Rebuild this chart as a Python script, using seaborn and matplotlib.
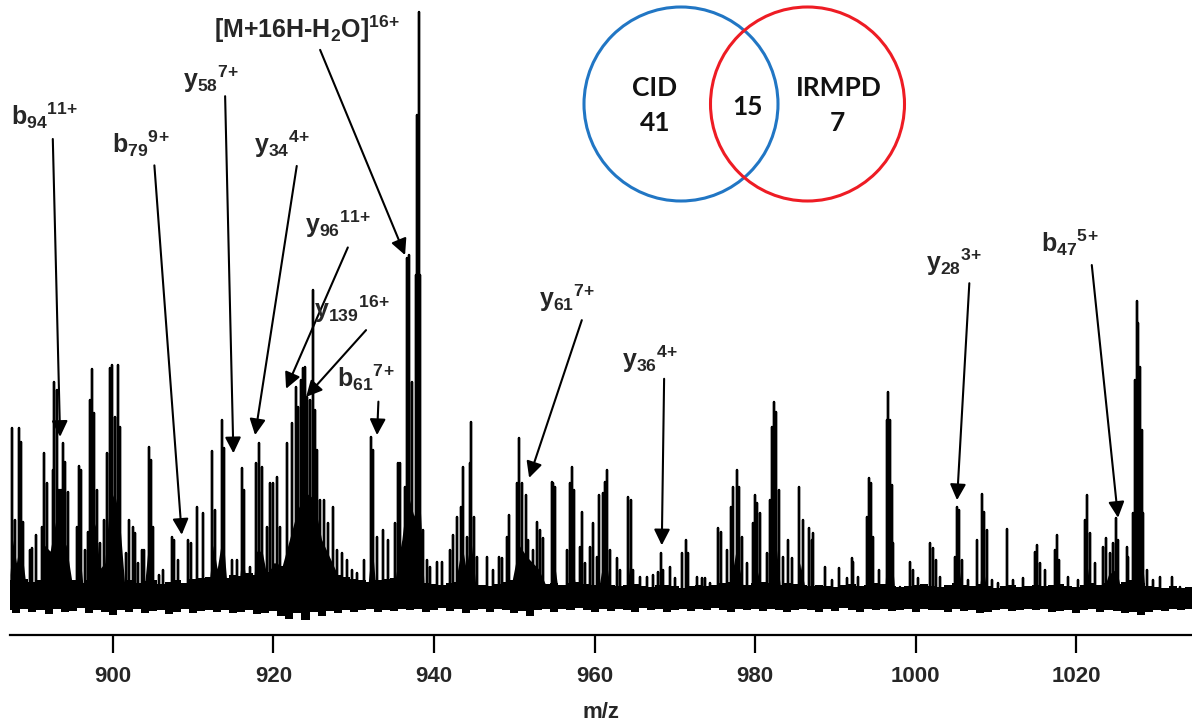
import numpy as np
import pandas as pd
import seaborn as sns
import matplotlib
matplotlib.use("Agg")
import matplotlib.pyplot as plt
from matplotlib.patches import Circle

# ---------------- data ----------------
peak_mz = [
    887.50, 887.83, 888.33, 888.58, 888.87, 889.70, 889.95, 890.45, 891.23, 891.48,
    891.78, 892.53, 892.73, 893.03, 893.28, 893.56, 893.85, 894.10, 894.47, 895.52,
    895.77, 896.01, 896.55, 896.96, 897.17, 897.46, 897.71, 898.01, 898.42, 898.92,
    899.33, 899.66, 899.95, 900.29, 900.62, 900.91, 901.66, 902.07, 902.49, 902.78,
    903.19, 903.61, 903.94, 904.48, 904.73, 904.98, 905.80, 906.30, 907.35, 907.63,
    908.17, 909.34, 909.71, 910.46, 911.21, 912.40, 912.74, 913.57, 913.86, 914.82,
    915.44, 916.06, 916.35, 917.10, 917.85, 918.22, 918.56, 919.18, 919.59, 920.00,
    920.50, 920.83, 921.74, 922.29, 922.83, 923.11, 923.45, 923.66, 923.95, 924.23,
    924.57, 924.91, 925.19, 925.48, 925.82, 926.31, 926.85, 927.40, 927.90, 928.52,
    929.14, 929.76, 930.39, 931.33, 932.17, 932.45, 932.88, 933.70, 934.32, 935.16,
    935.57, 935.78, 936.40, 936.65, 936.90, 937.21, 937.77, 937.93, 938.08, 938.18,
    938.31, 938.60, 939.10, 939.51, 940.35, 940.97, 942.00, 942.42, 942.91, 943.34,
    943.59, 944.08, 944.50, 944.62, 944.99, 945.41, 946.58, 947.40, 948.14, 948.44,
    949.07, 949.39, 950.31, 950.60, 950.93, 951.47, 951.76, 952.30, 952.80, 953.21,
    953.62, 954.67, 954.87, 955.08, 956.54, 956.95, 957.16, 957.45, 958.19, 958.41,
    958.82, 959.44, 959.85, 960.27, 960.60, 961.10, 961.31, 961.59, 961.93, 962.76,
    963.18, 964.21, 964.51, 964.83, 965.67, 966.50, 967.32, 967.95, 968.24, 968.57,
    969.40, 970.02, 970.86, 971.39, 971.68, 972.73, 973.35, 973.76, 974.38, 975.42,
    975.72, 976.46, 977.00, 977.28, 977.71, 978.03, 978.33, 978.95, 979.78, 979.99,
    980.27, 980.61, 981.44, 981.86, 982.07, 982.35, 982.60, 983.01, 983.51, 984.13,
    984.56, 985.45, 985.93, 986.75, 987.05, 987.25, 988.70, 989.54, 990.45, 991.41,
    992.03, 992.23, 992.85, 993.90, 994.18, 994.40, 994.72, 995.47, 996.39, 996.59,
    996.80, 997.01, 997.21, 998.05, 999.29, 999.70, 1000.32, 1001.78, 1002.12, 1002.53,
    1003.03, 1004.89, 1005.18, 1005.43, 1005.73, 1006.55, 1007.67, 1008.22, 1008.54, 1008.84,
    1009.46, 1010.29, 1011.33, 1012.15, 1013.40, 1014.86, 1015.14, 1015.48, 1016.10, 1017.35,
    1017.56, 1017.88, 1019.00, 1020.25, 1021.08, 1021.37, 1021.71, 1022.33, 1023.36, 1023.70,
    1024.20, 1024.61, 1024.95, 1025.23, 1026.28, 1026.48, 1027.10, 1027.31, 1027.52, 1027.72,
    1027.93, 1028.14, 1028.34, 1028.77, 1029.59, 1030.42, 1031.88, 1032.91,
]
peak_int = [
    29.0, 13.3, 29.0, 26.6, 13.0, 8.2, 8.5, 10.8, 12.1, 24.8,
    19.6, 21.8, 36.9, 35.5, 18.4, 18.4, 26.5, 23.2, 18.1, 12.1,
    22.5, 21.8, 8.2, 11.3, 33.8, 39.1, 31.6, 18.4, 9.4, 13.3,
    24.7, 39.2, 39.8, 30.9, 39.8, 29.2, 7.7, 13.3, 12.1, 11.1,
    6.0, 8.2, 8.2, 25.8, 23.5, 12.1, 3.9, 4.8, 10.4, 9.9,
    6.5, 9.9, 9.4, 15.5, 14.5, 25.0, 15.0, 30.4, 25.6, 6.5,
    6.5, 22.2, 18.4, 5.3, 23.0, 26.5, 22.4, 12.1, 19.6, 19.6,
    20.6, 12.1, 26.5, 29.9, 36.0, 32.6, 37.2, 39.2, 39.4, 34.3,
    33.8, 52.6, 32.1, 25.3, 16.7, 16.7, 12.8, 15.5, 8.2, 7.7,
    6.5, 4.8, 4.3, 6.5, 27.5, 25.3, 10.4, 11.6, 9.9, 12.8,
    23.0, 23.0, 18.9, 58.0, 58.5, 36.9, 55.1, 82.4, 82.4, 100.0,
    55.1, 11.6, 6.5, 5.3, 6.1, 6.1, 8.2, 10.8, 13.8, 15.5,
    22.4, 10.4, 23.0, 30.1, 13.8, 7.0, 7.0, 4.8, 7.0, 6.8,
    10.4, 14.2, 19.6, 27.3, 19.6, 17.6, 9.9, 8.2, 13.0, 11.6,
    10.2, 19.8, 19.6, 18.9, 8.2, 19.6, 22.4, 18.4, 8.7, 14.7,
    6.0, 8.7, 12.8, 7.0, 17.6, 17.9, 19.8, 21.8, 8.2, 6.8,
    4.8, 17.2, 16.7, 4.8, 3.6, 3.6, 3.9, 4.4, 7.7, 4.8,
    5.3, 3.4, 7.7, 9.9, 7.7, 3.6, 3.4, 3.4, 2.6, 11.9,
    11.3, 8.2, 15.5, 18.9, 21.8, 18.9, 10.4, 6.0, 12.8, 17.6,
    16.2, 14.5, 7.7, 16.7, 29.2, 33.5, 31.7, 18.4, 7.0, 9.9,
    6.8, 18.9, 13.3, 11.9, 9.9, 11.1, 5.3, 3.1, 5.1, 3.4,
    6.8, 6.1, 3.6, 13.8, 20.5, 19.6, 10.4, 4.8, 30.4, 35.2,
    30.4, 19.3, 9.4, 1.9, 6.1, 4.8, 3.4, 9.4, 8.5, 6.5,
    3.6, 7.0, 15.5, 15.0, 6.5, 3.1, 9.9, 17.7, 14.6, 11.6,
    3.1, 2.6, 11.8, 3.1, 3.4, 7.9, 9.0, 6.0, 4.8, 8.2,
    10.8, 6.5, 3.6, 3.1, 13.3, 17.6, 11.1, 6.0, 8.7, 10.2,
    7.7, 9.4, 13.7, 9.9, 8.7, 7.0, 14.5, 37.2, 50.6, 46.9,
    39.4, 28.7, 14.5, 4.8, 3.1, 3.6, 3.6, 1.9,
]

# solid (unresolved) body of the isotope clusters, read as an outline
envelope_mz = [
    887.2, 887.5, 888.0, 888.5, 889.2,
    890.8, 891.5, 892.2, 893.0, 893.6, 894.2, 895.0,
    895.4, 895.8, 896.3,
    896.8, 897.4, 897.9, 898.4, 899.0, 899.6, 900.2, 900.8, 901.5,
    903.8, 904.5, 905.1,
    911.8, 912.5, 913.0, 913.7, 914.3,
    915.6, 916.1, 916.7,
    917.3, 917.9, 918.6, 919.3, 919.9, 920.5, 921.0, 922.0, 923.0, 924.0, 925.0, 926.0, 927.0, 928.0, 929.5,
    931.6, 932.3, 932.8,
    934.8, 935.6, 936.0, 936.7, 937.5, 938.2, 938.8,
    942.3, 943.5, 944.0, 944.6, 945.3,
    949.3, 950.6, 951.6, 953.0, 954.0,
    954.4, 954.9, 955.5,
    956.7, 957.1, 957.7,
    960.3, 961.3, 962.0,
    963.9, 964.4, 964.9,
    976.6, 977.6, 978.5,
    979.6, 980.2, 980.9,
    981.6, 982.3, 983.2,
    985.1, 985.6, 986.3,
    993.7, 994.2, 994.8,
    996.1, 996.6, 997.4,
    1004.8, 1005.3, 1005.9,
    1007.8, 1008.3, 1009.0,
    1020.8, 1021.3, 1021.9,
    1023.0, 1024.0, 1025.0, 1025.6,
    1026.8, 1027.5, 1028.5, 1029.0,
    1034.4,
]
envelope_int = [
    4, 10, 6, 10, 2,
    0, 9, 8, 14, 10, 9, 2,
    0, 9, 2,
    0, 14, 12, 5, 6, 16, 18, 14, 2,
    0, 10, 2,
    0, 9, 5, 11, 1,
    0, 8, 2,
    0, 8, 8, 3, 6, 6, 5, 10, 15, 18, 17, 10, 7, 4, 1,
    0, 9, 1,
    0, 7, 10, 18, 14, 18, 1,
    0, 9, 5, 10, 1,
    0, 9, 7, 5, 2,
    0, 7, 1,
    0, 8, 1,
    0, 8, 1,
    0, 6, 0,
    0, 8, 2,
    0, 5, 1,
    0, 13, 1,
    0, 6, 1,
    0, 7, 1,
    0, 14, 1,
    0, 6, 0,
    0, 6, 0,
    0, 6, 0,
    0, 4, 5, 1,
    0, 18, 2, 0,
    0,
]

# baseline noise envelope, one value per m/z unit from 887 to 1035
noise_mz = list(range(887, 1036))
noise_hi = [
    3.0, 2.6, 3.2, 2.8, 3.1, 2.7, 3.3, 2.9, 3.0, 2.6, 3.1, 2.8, 3.2,
    3.0, 2.7, 3.1, 2.5, 2.9, 3.0, 2.4, 2.8, 3.0, 2.6, 3.2, 3.4, 3.6,
    3.8, 3.5, 4.0, 3.7, 4.2, 4.0, 4.5, 5.0, 5.5, 6.0, 6.5, 6.0, 5.5, 5.0, 4.5, 4.0, 3.6, 3.2, 3.0, 2.8, 3.0, 3.2, 3.5, 4.0,
    4.0, 3.0, 2.6, 2.4, 2.2, 2.5, 2.8, 3.0, 2.6, 2.3, 2.0, 2.4, 2.7, 3.0, 2.8, 2.5, 2.2, 2.4, 2.6, 2.3, 2.5, 2.7, 2.4, 2.2,
    2.5, 2.3, 2.0, 2.2, 2.4, 2.1, 1.9, 2.3, 2.2, 2.0, 1.8, 2.1, 2.3, 2.0, 2.2, 2.5, 2.7, 2.4, 2.2, 2.5, 2.8, 2.6, 2.3, 2.5,
    2.4, 2.2, 2.0, 2.3, 2.1, 1.9, 2.2, 2.4, 2.1, 2.3, 2.6, 2.4, 2.1, 1.9, 2.0, 2.2, 2.4, 2.1, 1.9, 2.2, 2.5, 2.3, 2.1, 2.4, 2.0, 1.8,
    2.0, 2.2, 1.9, 2.1, 2.3, 2.0, 2.2, 2.4, 2.1, 1.9, 2.2, 2.5, 2.3, 2.6, 2.4, 2.8, 3.0, 2.5, 2.1, 1.9, 1.8, 2.0, 1.7, 1.9, 1.8,
]
noise_lo = [
    -2.0, -2.6, -1.8, -2.3, -2.1, -2.8, -1.9, -2.4, -2.2, -1.7, -2.5, -2.0, -2.3,
    -2.9, -2.1, -2.4, -1.8, -2.6, -2.2, -2.0, -2.7, -2.3, -1.9, -2.5, -2.2, -2.0,
    -2.4, -2.1, -2.6, -2.3, -2.0, -2.8, -2.5, -2.2, -3.0, -3.5, -2.6, -3.8, -2.4, -3.0, -2.2, -2.5, -2.0, -2.3, -2.1, -1.8, -2.4, -2.0, -2.2, -1.9,
    -2.1, -1.8, -2.4, -2.0, -1.7, -2.2, -1.9, -2.5, -2.0, -1.8, -2.3, -1.9, -2.1, -2.6, -2.2, -3.0, -2.0, -1.8, -2.3, -1.9, -2.1, -1.7, -2.0, -2.4,
    -1.9, -2.2, -1.8, -2.0, -2.3, -1.7, -2.1, -1.9, -2.4, -2.0, -1.8, -2.2, -1.9, -2.1, -1.7, -2.0, -2.3, -1.8, -2.1, -1.9, -2.2, -1.8, -2.0, -2.4,
    -2.1, -1.8, -2.0, -2.3, -1.9, -2.2, -1.7, -2.0, -2.4, -1.9, -2.1, -1.8, -2.2, -2.0, -1.9, -2.3, -1.8, -2.1, -2.0, -2.4, -1.9, -2.2, -2.0, -2.6, -2.3, -2.0,
    -1.9, -2.2, -2.0, -1.8, -2.1, -1.9, -2.4, -2.2, -2.0, -2.5, -2.1, -1.9, -2.3, -2.0, -2.2, -2.6, -2.4, -2.9, -2.3, -2.0, -2.2, -1.9, -2.1, -1.8, -2.0,
]

tick_values = [900, 920, 940, 960, 980, 1000, 1020]
x_label = "m/z"

ion_labels = [
    r"b${}_{94}$${}^{11\!+}$", r"b${}_{79}$${}^{9\!+}$", r"y${}_{58}$${}^{7\!+}$", r"y${}_{34}$${}^{4\!+}$",
    r"[M+16H-H${}_{2}$O]${}^{16\!+}$", r"y${}_{96}$${}^{11\!+}$", r"y${}_{139}$${}^{16\!+}$", r"b${}_{61}$${}^{7\!+}$",
    r"y${}_{61}$${}^{7\!+}$", r"y${}_{36}$${}^{4\!+}$", r"y${}_{28}$${}^{3\!+}$", r"b${}_{47}$${}^{5\!+}$",
]
ion_tip_mz = [893.44, 908.59, 915.02, 917.72, 936.40, 921.58, 924.07, 932.91, 951.85, 968.37, 1005.14, 1025.19]
ion_tip_int = [27.5, 10.8, 24.7, 27.8, 58.5, 35.7, 34.3, 27.8, 20.5, 9.0, 16.7, 13.7]

venn_sets = ["CID", "IRMPD"]
venn_only = [41, 7]
venn_shared = 15

# ---------------- layout (label / arrow-start positions, data units) ----------------
label_pos = [
    (891.57, 80.7), (903.46, 76.0), (912.24, 87.0), (921.15, 75.9),
    (924.20, 95.6), (928.06, 62.3), (929.80, 47.8), (931.54, 36.1),
    (956.57, 49.7), (966.91, 39.2), (1004.83, 55.7), (1019.22, 59.0),
]
arrow_start = [
    (892.53, 78.3), (905.18, 73.8), (913.99, 85.6), (922.91, 73.7),
    (925.82, 93.5), (929.27, 59.8), (931.54, 45.7), (933.08, 33.5),
    (958.41, 47.4), (968.66, 37.4), (1006.67, 53.7), (1021.92, 56.8),
]

# ---------------- styling ----------------
sns.set_theme(style="white")
plt.rcParams["font.family"] = ["Liberation Sans", "DejaVu Sans"]
plt.rcParams["mathtext.fontset"] = "custom"
plt.rcParams["mathtext.rm"] = "Liberation Sans:bold"
plt.rcParams["mathtext.it"] = "Liberation Sans:bold"
plt.rcParams["mathtext.bf"] = "Liberation Sans:bold"

W, H = 1192, 726
fig = plt.figure(figsize=(W / 100, H / 100), dpi=100)
ax = fig.add_axes([10 / W, (H - 635) / H, (W - 10) / W, 625 / H])

# noise floor and unresolved cluster body
ax.fill_between(noise_mz, noise_lo, noise_hi, step="mid", color="black", lw=0)
ax.fill_between(envelope_mz, 0, envelope_int, color="black", lw=0)

# stick / profile spectrum
order = np.argsort(peak_mz)
mz = np.asarray(peak_mz)[order]
it = np.asarray(peak_int)[order]
xs = np.repeat(mz, 3)
ys = np.column_stack([np.zeros_like(it), it, np.zeros_like(it)]).ravel()
prof = pd.DataFrame({"mz": xs, "intensity": ys})
sns.lineplot(data=prof, x="mz", y="intensity", sort=False, estimator=None,
             color="black", lw=1.7, ax=ax)

ax.set_xlim(887.2, 1034.4)
ax.set_ylim(-6.3, 100.3)
ax.set_yticks([])
ax.set_ylabel("")
for s in ["left", "right", "top"]:
    ax.spines[s].set_visible(False)
ax.spines["bottom"].set_linewidth(1.6)
ax.spines["bottom"].set_color("black")
ax.set_xticks(tick_values)
ax.set_xticklabels([str(t) for t in tick_values], fontsize=16, fontweight="bold")
ax.tick_params(axis="x", bottom=True, direction="out", length=13, width=1.6,
               color="black", pad=9)
ax.set_xlabel(x_label, fontsize=16, fontweight="bold", labelpad=11)

# annotations
for lab, (tx, ty), (sx, sy), px, py in zip(ion_labels, label_pos, arrow_start, ion_tip_mz, ion_tip_int):
    ax.text(tx, ty, lab, fontsize=18, fontweight="bold", ha="center", va="baseline")
    ax.annotate("", xy=(px, py), xytext=(sx, sy),
                arrowprops=dict(arrowstyle="-|>,head_length=0.4,head_width=0.2",
                                color="black", lw=1.5, mutation_scale=24,
                                shrinkA=0, shrinkB=0))

# Venn diagram inset (pixel-like coordinates)
vax = fig.add_axes([570 / W, (H - 212) / H, 350 / W, 212 / H])
vax.set_xlim(570, 920)
vax.set_ylim(212, 0)
vax.set_aspect("equal")
vax.axis("off")
vax.add_patch(Circle((681, 104), 97, fill=False, ec="#2176C4", lw=2.2))
vax.add_patch(Circle((807.5, 104), 97, fill=False, ec="#EE1C24", lw=2.2))
vfont = dict(fontsize=19, fontweight="bold", family=["Lato", "DejaVu Sans"],
             ha="center", va="center", color="#111111")
vax.text(655, 88, venn_sets[0], **vfont)
vax.text(655, 123, str(venn_only[0]), **vfont)
vax.text(747.5, 107, str(venn_shared), **vfont)
vax.text(839, 88, venn_sets[1], **vfont)
vax.text(837, 123, str(venn_only[1]), **vfont)

fig.savefig("out.png", dpi=100)
